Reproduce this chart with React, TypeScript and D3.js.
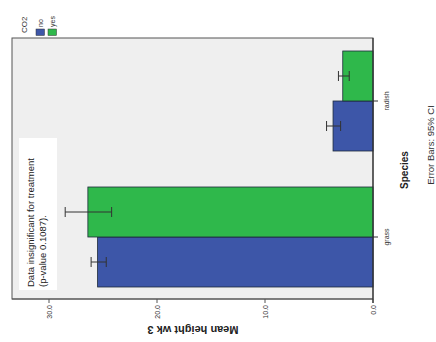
import { useEffect, useRef } from 'react'
import * as d3 from 'd3'

// chart values
const species = ['grass', 'radish']
const co2Groups = ['no', 'yes']
const meanNo = [25.5, 3.7]
const meanYes = [26.4, 2.8]
const ciLowNo = [24.7, 3.0]
const ciHighNo = [26.1, 4.3]
const ciLowYes = [24.2, 2.2]
const ciHighYes = [28.5, 3.2]
const valueTicks = [0, 10, 20, 30]
const groupColors = ['#3d56a8', '#2fb84b']

const W = 436
const H = 342

const App = () => {
  const svgRef = useRef(null)

  useEffect(() => {
    const svg = d3.select(svgRef.current)
    svg.selectAll('*').remove()

    const font = '"Liberation Sans", Arial, sans-serif'

    // plot area (chart is turned on its side: values run right -> left)
    const left = 12
    const top = 38
    const right = 373
    const bottom = 299

    const x = d3.scaleLinear().domain([0, 30]).range([373, 49])
    const y = d3.scaleBand().domain(species).range([305, 33])
    const inner = d3.scaleBand().domain(['yes', 'no']).range([0, 100])

    svg.append('rect').attr('width', W).attr('height', H).attr('fill', '#fff')

    svg
      .append('rect')
      .attr('x', left)
      .attr('y', top)
      .attr('width', right - left)
      .attr('height', bottom - top)
      .attr('fill', '#efefef')
      .attr('stroke', '#555')
      .attr('stroke-width', 1)

    // annotation box
    svg
      .append('rect')
      .attr('x', 19)
      .attr('y', 138)
      .attr('width', 38)
      .attr('height', 152)
      .attr('fill', '#fff')
    const note = svg
      .append('text')
      .attr('transform', 'translate(34,287) rotate(-90)')
      .style('font-family', font)
      .style('font-size', '9.5px')
      .attr('fill', '#222')
    note.append('tspan').attr('x', 0).attr('y', 0).text('Data insignificant for treatment')
    note.append('tspan').attr('x', 0).attr('y', 12).text('(p-value 0.1087).')

    // bars
    const rows = species.map((s, i) => ({
      s,
      vals: [
        { g: 'no', v: meanNo[i], lo: ciLowNo[i], hi: ciHighNo[i], c: groupColors[0] },
        { g: 'yes', v: meanYes[i], lo: ciLowYes[i], hi: ciHighYes[i], c: groupColors[1] },
      ],
    }))

    const off = (y.bandwidth() - 100) / 2
    const g = svg.append('g')
    rows.forEach((r) => {
      r.vals.forEach((d) => {
        const y0 = y(r.s) + off + inner(d.g)
        g.append('rect')
          .attr('x', x(d.v))
          .attr('y', y0)
          .attr('width', x(0) - x(d.v))
          .attr('height', inner.bandwidth())
          .attr('fill', d.c)
          .attr('stroke', '#1d2a3a')
          .attr('stroke-width', 0.8)
        const cy = y0 + inner.bandwidth() / 2
        g.append('line')
          .attr('x1', x(d.lo))
          .attr('x2', x(d.hi))
          .attr('y1', cy)
          .attr('y2', cy)
          .attr('stroke', '#333')
          .attr('stroke-width', 1)
        ;[d.lo, d.hi].forEach((v) => {
          g.append('line')
            .attr('x1', x(v))
            .attr('x2', x(v))
            .attr('y1', cy - 5)
            .attr('y2', cy + 5)
            .attr('stroke', '#333')
            .attr('stroke-width', 1)
        })
      })
    })

    // value axis (bottom)
    svg
      .append('line')
      .attr('x1', left)
      .attr('x2', right)
      .attr('y1', bottom)
      .attr('y2', bottom)
      .attr('stroke', '#555')
    valueTicks.forEach((t) => {
      svg
        .append('line')
        .attr('x1', x(t))
        .attr('x2', x(t))
        .attr('y1', bottom)
        .attr('y2', bottom + 4)
        .attr('stroke', '#555')
      svg
        .append('text')
        .attr('transform', `translate(${x(t) + 2.5},${bottom + 6}) rotate(-90)`)
        .attr('text-anchor', 'end')
        .style('font-family', font)
        .style('font-size', '7px')
        .attr('fill', '#333')
        .text(d3.format('.1f')(t))
    })
    svg
      .append('text')
      .attr('transform', 'translate(193,326) rotate(180)')
      .attr('text-anchor', 'middle')
      .style('font-family', font)
      .style('font-size', '11px')
      .style('font-weight', 'bold')
      .attr('fill', '#222')
      .text('Mean height wk 3')

    // category axis (right)
    svg
      .append('line')
      .attr('x1', right)
      .attr('x2', right)
      .attr('y1', top)
      .attr('y2', bottom + 4)
      .attr('stroke', '#333')
      .attr('stroke-width', 1.2)
    species.forEach((s) => {
      const cy = y(s) + y.bandwidth() / 2
      svg
        .append('line')
        .attr('x1', right)
        .attr('x2', right + 5)
        .attr('y1', cy)
        .attr('y2', cy)
        .attr('stroke', '#333')
      svg
        .append('text')
        .attr('transform', `translate(389,${cy}) rotate(-90)`)
        .attr('text-anchor', 'middle')
        .style('font-family', font)
        .style('font-size', '7px')
        .attr('fill', '#333')
        .text(s)
    })
    svg
      .append('text')
      .attr('transform', 'translate(408,170) rotate(-90)')
      .attr('text-anchor', 'middle')
      .style('font-family', font)
      .style('font-size', '10px')
      .style('font-weight', 'bold')
      .attr('fill', '#222')
      .text('Species')
    svg
      .append('text')
      .attr('transform', 'translate(434,145) rotate(-90)')
      .attr('text-anchor', 'middle')
      .style('font-family', font)
      .style('font-size', '9.5px')
      .attr('fill', '#333')
      .text('Error Bars: 95% CI')

    // legend
    svg
      .append('text')
      .attr('transform', 'translate(27,33) rotate(-90)')
      .style('font-family', font)
      .style('font-size', '8px')
      .attr('fill', '#333')
      .text('CO2')
    co2Groups.forEach((k, i) => {
      const lx = 36 + i * 12
      svg
        .append('rect')
        .attr('x', lx)
        .attr('y', 29)
        .attr('width', 8.5)
        .attr('height', 6.5)
        .attr('fill', groupColors[i])
        .attr('stroke', '#333')
        .attr('stroke-width', 0.5)
      svg
        .append('text')
        .attr('transform', `translate(${lx + 6.5},27) rotate(-90)`)
        .style('font-family', font)
        .style('font-size', '7px')
        .attr('fill', '#333')
        .text(k)
    })
  }, [])

  return (
    <div style={{ position: 'absolute', left: 0, top: 0 }}>
      <svg ref={svgRef} width={W} height={H} style={{ display: 'block' }}></svg>
    </div>
  )
}

export default App
